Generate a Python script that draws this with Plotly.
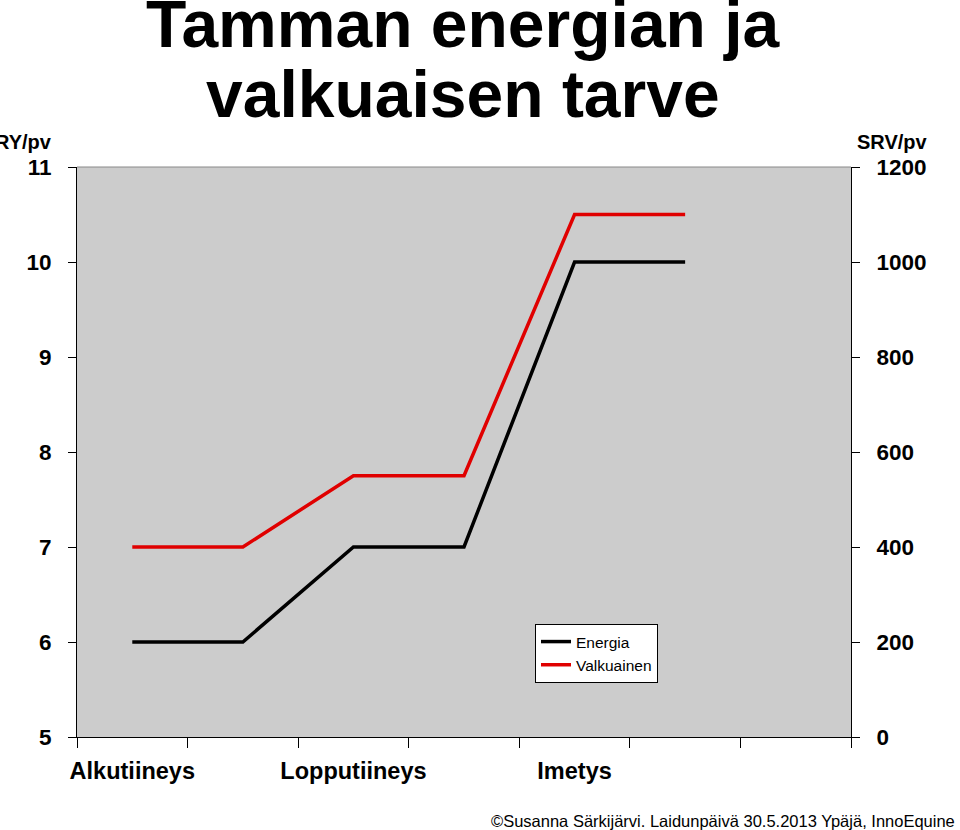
import plotly.graph_objects as go

# Data
x_pos = [0, 1, 2, 3, 4, 5]
energia_ry = [6, 6, 7, 7, 10, 10]                  # RY/pv (left axis)
valkuainen_srv = [400, 400, 550, 550, 1100, 1100]  # SRV/pv (right axis)
label_pos = [0, 2, 4]
label_text = ["Alkutiineys", "Lopputiineys", "Imetys"]
boundaries = [-0.5, 0.5, 1.5, 2.5, 3.5, 4.5, 5.5, 6.5]
left_ticks = [5, 6, 7, 8, 9, 10, 11]
right_ticks = [0, 200, 400, 600, 800, 1000, 1200]

FONT = "Liberation Sans, Arial, Helvetica, sans-serif"

fig = go.Figure()
fig.add_trace(go.Scatter(x=x_pos, y=energia_ry, mode="lines", name="Energia",
                         line=dict(color="#000000", width=3.5), yaxis="y"))
fig.add_trace(go.Scatter(x=x_pos, y=valkuainen_srv, mode="lines", name="Valkuainen",
                         line=dict(color="#E00000", width=3.5), yaxis="y2"))

L, R, T, B = 77, 109, 167, 93
W, H = 960, 830
pw = W - L - R
ph = H - T - B

def px(xp):
    return (xp - L) / pw

def py(yp):
    return (H - B - yp) / ph

fig.update_layout(
    width=W, height=H,
    margin=dict(l=L, r=R, t=T, b=B),
    paper_bgcolor="white",
    plot_bgcolor="#CCCCCC",
    font=dict(family=FONT, color="black"),
    showlegend=True,
    legend=dict(x=px(535), y=py(624), xanchor="left", yanchor="top",
                bgcolor="white", bordercolor="black", borderwidth=1,
                font=dict(size=15.5, family=FONT), tracegroupgap=0,
                itemwidth=30),
    xaxis=dict(range=[-0.5, 6.5], tickmode="array", tickvals=label_pos, ticktext=label_text,
               ticks="", showgrid=False, zeroline=False, showline=True, linecolor="black",
               linewidth=1, tickfont=dict(size=23.5, family=FONT, weight="bold"),
               ticklabelstandoff=13,
               minor=dict(tickmode="array", tickvals=boundaries, ticks="outside",
                          ticklen=10, tickcolor="black", tickwidth=1, showgrid=False)),
    yaxis=dict(range=[5, 11], tickmode="array", tickvals=left_ticks, ticks="outside",
               ticklen=8, tickcolor="black", showgrid=False, zeroline=False, showline=True,
               linecolor="black", linewidth=1, ticklabelstandoff=12,
               tickfont=dict(size=22.5, family=FONT, weight="bold")),
    yaxis2=dict(range=[0, 1200], tickmode="array", tickvals=right_ticks, overlaying="y",
                side="right", ticks="outside", ticklen=8, tickcolor="black", showgrid=False,
                zeroline=False, showline=True, linecolor="black", linewidth=1,
                ticklabelstandoff=12,
                tickfont=dict(size=22.5, family=FONT, weight="bold")),
)

# top border of plot area
fig.add_shape(type="line", xref="paper", yref="paper", x0=0, x1=1, y0=1, y1=1,
              line=dict(color="#888888", width=1))

annotations = [
    dict(text="<b>Tamman energian ja</b>", x=px(463), y=py(48), xanchor="center", yanchor="bottom",
         font=dict(size=66, family=FONT), yshift=-15),
    dict(text="<b>valkuaisen tarve</b>", x=px(463), y=py(118), xanchor="center", yanchor="bottom",
         font=dict(size=66, family=FONT), yshift=-15),
    dict(text="<b>RY/pv</b>", x=px(54), y=py(142), xanchor="right", yanchor="middle",
         font=dict(size=20, family=FONT)),
    dict(text="<b>SRV/pv</b>", x=px(892), y=py(142), xanchor="center", yanchor="middle",
         font=dict(size=20, family=FONT)),
    dict(text="©Susanna Särkijärvi. Laidunpäivä 30.5.2013 Ypäjä, InnoEquine",
         x=px(957), y=py(821), xanchor="right", yanchor="middle",
         font=dict(size=16.5, family=FONT)),
]
for a in annotations:
    a.update(xref="paper", yref="paper", showarrow=False)
    fig.add_annotation(**a)

fig.write_html("out.html")
